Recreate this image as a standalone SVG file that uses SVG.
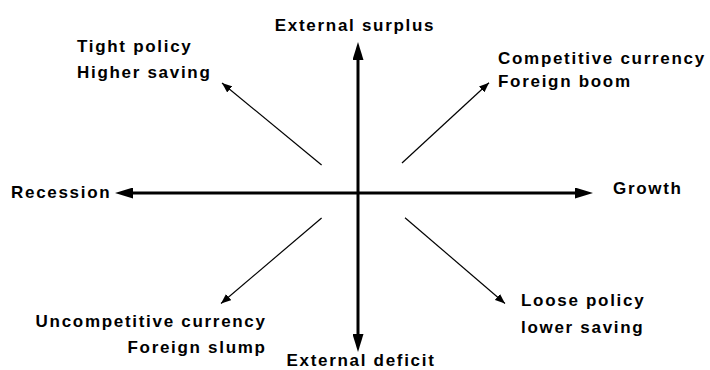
<svg xmlns="http://www.w3.org/2000/svg" width="710" height="370" viewBox="0 0 710 370">
<style>
text{font-family:"Liberation Sans",Arial,sans-serif;font-weight:bold;font-size:17px;letter-spacing:1.7px;fill:#000}
.ax{stroke:#000;stroke-width:3;fill:none}
.dg{stroke:#000;stroke-width:1.2;fill:none}
</style>
<defs>
<marker id="big" viewBox="0 0 18 11" refX="0" refY="5.5" markerWidth="18" markerHeight="11" markerUnits="userSpaceOnUse" orient="auto"><path d="M0,0 L18,5.5 L0,11 z" fill="#000"/></marker>
<marker id="small" viewBox="0 0 10 8" refX="10" refY="4" markerWidth="10" markerHeight="8" markerUnits="userSpaceOnUse" orient="auto"><path d="M0,0 L10,4 L0,8 z" fill="#000"/></marker>
</defs>
<rect width="710" height="370" fill="#fff"/>
<g id="connectors">
<line class="ax" x1="358" y1="193" x2="358" y2="60" marker-end="url(#big)"/>
<line class="ax" x1="358" y1="193" x2="358" y2="334" marker-end="url(#big)"/>
<line class="ax" x1="358" y1="193" x2="133" y2="193" marker-end="url(#big)"/>
<line class="ax" x1="358" y1="193" x2="575" y2="193" marker-end="url(#big)"/>
<line class="dg" x1="321.6" y1="165" x2="222" y2="83" marker-end="url(#small)"/>
<line class="dg" x1="402" y1="163" x2="489" y2="82.7" marker-end="url(#small)"/>
<line class="dg" x1="321.6" y1="218" x2="221" y2="303.5" marker-end="url(#small)"/>
<line class="dg" x1="405" y1="217.7" x2="505" y2="303.5" marker-end="url(#small)"/>
</g>
<g id="surplus"><text x="355" y="31" text-anchor="middle">External surplus</text></g>
<g id="deficit"><text x="361" y="366" text-anchor="middle">External deficit</text></g>
<g id="recession"><text x="11" y="198">Recession</text></g>
<g id="growth"><text x="613" y="194">Growth</text></g>
<g id="tight"><text x="77" y="52">Tight policy</text><text x="77" y="77.5">Higher saving</text></g>
<g id="competitive"><text x="498" y="64">Competitive currency</text><text x="498" y="87">Foreign boom</text></g>
<g id="loose"><text x="521" y="306">Loose policy</text><text x="521" y="333">lower saving</text></g>
<g id="uncompetitive"><text x="266.7" y="326.5" text-anchor="end">Uncompetitive currency</text><text x="266.7" y="352.5" text-anchor="end">Foreign slump</text></g>
</svg>
